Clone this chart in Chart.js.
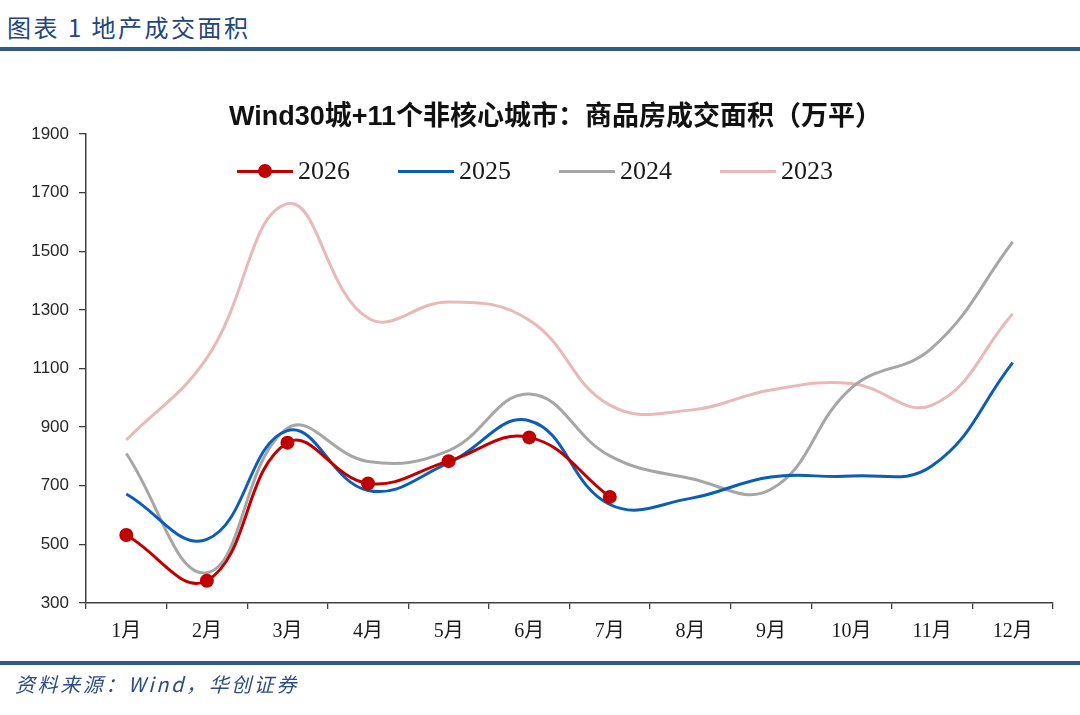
<!DOCTYPE html>
<html lang="zh-CN">
<head>
<meta charset="utf-8">
<title>地产成交面积</title>
<script src="https://cdn.jsdelivr.net/npm/chart.js@4/dist/chart.umd.min.js"></script>
<style>
  html, body { margin: 0; padding: 0; background: #fff; }
  #wrap { position: relative; width: 1080px; height: 715px; overflow: hidden; }
  #cabecera {
    position: absolute; left: 7px; top: 12px;
    font: 24px "Noto Sans CJK SC", sans-serif; letter-spacing: 2.5px;
    color: #22467a; line-height: 30px;
  }
  .regla { position: absolute; left: 0; width: 1080px; height: 4px; background: #2f5a8b; }
  #fuente {
    position: absolute; left: 15px; top: 671px;
    font: italic 20px "Noto Sans CJK SC", sans-serif; letter-spacing: 2.6px;
    color: #2b4d80; line-height: 26px;
  }
  #leyenda {
    position: absolute; left: 237px; top: 156px; height: 30px;
    display: flex; align-items: center;
    font: 26px "Liberation Serif", serif; color: #1a1a1a;
  }
  .item { display: flex; align-items: center; margin-right: 48px; }
  .marca { position: relative; width: 56px; height: 16px; margin-right: 5px; }
  .marca .linea { position: absolute; left: 0; top: 6.5px; width: 56px; height: 3px; }
  .marca .punto { position: absolute; left: 21px; top: 1px; width: 14px; height: 14px; border-radius: 50%; }
  canvas { position: absolute; left: 0; top: 0; }
</style>
</head>
<body>
<div id="wrap">
  <div id="cabecera">图表 1 地产成交面积</div>
  <div class="regla" style="top:47px"></div>
  <canvas id="areaVentas" width="1080" height="715"></canvas>
  <div id="leyenda"></div>
  <div class="regla" style="top:661px"></div>
  <div id="fuente">资料来源：Wind，华创证券</div>
</div>
<script>
const meses = ["1月", "2月", "3月", "4月", "5月", "6月", "7月", "8月", "9月", "10月", "11月", "12月"];

// 万平
const area2026 = [532, 376, 847, 708, 784, 865, 662];
const area2025 = [672, 517, 888, 684, 778, 922, 636, 657, 730, 733, 768, 1120];
const area2024 = [810, 403, 896, 783, 820, 1013, 802, 725, 688, 1034, 1170, 1532];
const area2023 = [856, 1136, 1662, 1272, 1327, 1265, 975, 958, 1027, 1049, 975, 1287];

const colores = {
  "2026": "#C00000",
  "2025": "#0B5DB5",
  "2024": "#A6A6A6",
  "2023": "#E8B9B9",
};

/* LEYENDA EN HTML */
const leyendaHtml = {
  id: "leyendaHtml",
  afterUpdate(chart) {
    const caja = document.getElementById("leyenda");
    caja.innerHTML = "";
    chart.data.datasets.forEach((ds) => {
      const item = document.createElement("div");
      item.className = "item";
      const marca = document.createElement("div");
      marca.className = "marca";
      const linea = document.createElement("div");
      linea.className = "linea";
      linea.style.background = ds.borderColor;
      marca.appendChild(linea);
      if (ds.pointRadius > 0) {
        const punto = document.createElement("div");
        punto.className = "punto";
        punto.style.background = ds.pointBackgroundColor;
        marca.appendChild(punto);
      }
      const texto = document.createElement("span");
      texto.textContent = ds.label;
      item.appendChild(marca);
      item.appendChild(texto);
      caja.appendChild(item);
    });
  },
};

function serie(label, data, conPuntos) {
  return {
    label: label,
    data: data,
    borderColor: colores[label],
    backgroundColor: colores[label],
    pointBackgroundColor: colores[label],
    borderWidth: 3,
    pointRadius: conPuntos ? 7 : 0,
    pointBorderWidth: 0,
    pointHoverRadius: conPuntos ? 7 : 0,
    tension: 0.42,
    fill: false,
  };
}

const charts = {};
charts.area = new Chart(document.getElementById("areaVentas"), {
  type: "line",
  data: {
    labels: meses,
    datasets: [
      serie("2026", area2026, true),
      serie("2025", area2025, false),
      serie("2024", area2024, false),
      serie("2023", area2023, false),
    ],
  },
  plugins: [leyendaHtml],
  options: {
    responsive: false,
    animation: false,
    layout: { padding: { top: 97.6, left: 28, right: 27, bottom: 52 } },
    plugins: {
      legend: { display: false },
      tooltip: { enabled: false },
      title: {
        display: true,
        text: "    Wind30城+11个非核心城市：商品房成交面积（万平）",
        color: "#111",
        font: { family: "'Liberation Sans', 'Noto Sans CJK SC', sans-serif", size: 27, weight: "bold", lineHeight: 1.2 },
        padding: { top: 4, bottom: 0 },
      },
    },
    scales: {
      x: {
        offset: true,
        afterFit: (s) => { s.height = 60; },
        grid: { offset: true, drawOnChartArea: false, drawTicks: true, tickLength: 6, color: "#404040", lineWidth: 1.3 },
        border: { display: true, color: "#404040", width: 1.5 },
        ticks: {
          color: "#1a1a1a",
          padding: 11,
          maxRotation: 0,
          font: { family: "'Liberation Serif', 'Noto Sans CJK SC', serif", size: 20 },
        },
      },
      y: {
        min: 300,
        max: 1900,
        afterFit: (s) => { s.width = 58; },
        grid: { drawOnChartArea: false, drawTicks: true, tickLength: 7, color: "#404040", lineWidth: 1.3 },
        border: { display: true, color: "#404040", width: 1.5 },
        ticks: {
          stepSize: 200,
          color: "#262626",
          padding: 10,
          font: { family: "'Liberation Sans', sans-serif", size: 17 },
          callback: (v) => String(v),
        },
      },
    },
  },
});
</script>
</body>
</html>
